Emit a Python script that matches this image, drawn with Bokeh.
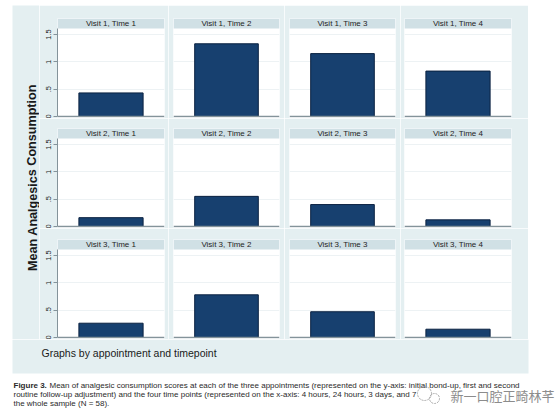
from bokeh.plotting import figure
from bokeh.layouts import row, column, Spacer
from bokeh.models import Range1d, FactorRange, BoxAnnotation, Span, Grid, FixedTicker
from bokeh.core.properties import value
from bokeh.embed import file_html
from bokeh.resources import INLINE

# ---------------- data ----------------
visits = ["Visit 1", "Visit 2", "Visit 3"]
times = ["Time 1", "Time 2", "Time 3", "Time 4"]
visit1 = [0.43, 1.33, 1.15, 0.83]
visit2 = [0.16, 0.55, 0.40, 0.12]
visit3 = [0.26, 0.78, 0.47, 0.15]
y_ticks = [0, 0.5, 1, 1.5]
y_tick_labels = ["0", ".5", "1", "1.5"]
y_title = "Mean Analgesics Consumption"
note = "Graphs by appointment and timepoint"
caption_bold = "Figure 3."
caption_lines = [
    "Mean of analgesic consumption scores at each of the three appointments (represented on the y-axis: initial bond-up, first and second",
    "routine follow-up adjustment) and the four time points (represented on the x-axis: 4 hours, 24 hours, 3 days, and 7",
    "the whole sample (N = 58).",
]
watermark = "新一口腔正畸林芊"

series = [visit1, visit2, visit3]

# ---------------- style ----------------
BG = "#e4eff1"
STRIP = "#d0e0e5"
BAR = "#17406f"
BAR_EDGE = "#0a2140"
AX = "#84939a"
FONT = "Liberation Sans"

Y_MIN = -0.02
PLOT_TOP = 1.61
STRIP_TOP = 1.793
STRIP_MID = (PLOT_TOP + STRIP_TOP) / 2

col_w = [129, 116, 116, 128]
col_borders = [(18, 4), (5, 5), (5, 5), (4, 17)]
row_h = [113, 110, 111]
row_borders = [(13, 1), (10, 1), (11, 1)]

rows = []
for r in range(3):
    figs = []
    for c in range(4):
        p = figure(width=col_w[c], height=row_h[r],
                   x_range=FactorRange(factors=[times[c]]),
                   y_range=Range1d(Y_MIN, STRIP_TOP),
                   x_axis_location=None,
                   y_axis_location="left" if c == 0 else None,
                   toolbar_location=None, tools="", title=None,
                   output_backend="svg",
                   min_border_left=col_borders[c][0], min_border_right=col_borders[c][1],
                   min_border_top=row_borders[r][0], min_border_bottom=row_borders[r][1])
        p.background_fill_color = "white"
        p.border_fill_color = BG
        p.outline_line_color = None
        p.grid.grid_line_color = None
        p.add_layout(Grid(dimension=1, ticker=FixedTicker(ticks=y_ticks[1:]),
                          grid_line_color="#edf2f4", grid_line_width=1))
        p.add_layout(BoxAnnotation(bottom=PLOT_TOP, fill_color=STRIP, fill_alpha=1.0,
                                   line_color=None, level="underlay"))
        p.text(x=[times[c]], y=[STRIP_MID], text=[f"{visits[r]}, {times[c]}"],
               text_align="center", text_baseline="middle",
               text_font=value(FONT), text_font_size="8px", text_color="#1e1e1e",
               level="overlay")
        p.vbar(x=[times[c]], top=[series[r][c]], bottom=0, width=0.6,
               fill_color=BAR, line_color=BAR_EDGE, line_width=1)
        p.add_layout(Span(location=0, dimension="width", line_color=AX, line_width=1.5))
        if c == 0:
            ax = p.yaxis[0]
            ax.ticker = FixedTicker(ticks=y_ticks)
            ax.major_label_overrides = dict(zip(y_ticks, y_tick_labels))
            ax.major_label_orientation = "vertical"
            ax.major_label_text_font = FONT
            ax.major_label_text_font_size = "7.5px"
            ax.major_label_text_color = "#222222"
            ax.major_label_standoff = 2
            ax.major_tick_in = 0
            ax.major_tick_out = 4
            ax.minor_tick_line_color = None
            ax.major_tick_line_color = AX
            ax.axis_line_color = AX
            ax.bounds = (0, PLOT_TOP)
        figs.append(p)
    rows.append(row(*figs, spacing=0))

grid = column(*rows, spacing=0)

# left title figure
LW, LH = 27, sum(row_h)
left = figure(width=LW, height=LH, x_range=Range1d(0, LW), y_range=Range1d(0, LH),
              x_axis_location=None, y_axis_location=None, toolbar_location=None,
              tools="", title=None, output_backend="svg", min_border=0)
left.background_fill_color = BG
left.border_fill_color = BG
left.outline_line_color = None
left.grid.grid_line_color = None
left.text(x=[20], y=[162], text=[y_title], angle=1.5708,
          text_align="center", text_baseline="middle",
          text_font=value(FONT), text_font_size="12.6px", text_font_style="bold",
          text_color="#1a1a1a")

top = row(Spacer(width=12, height=LH), left, grid, spacing=0)

# bottom figure: note + caption
BW, BH = 560, 79
bot = figure(width=BW, height=BH, x_range=Range1d(0, BW), y_range=Range1d(0, BH),
             x_axis_location=None, y_axis_location=None, toolbar_location=None,
             tools="", title=None, output_backend="svg", min_border=0)
bot.background_fill_color = "white"
bot.border_fill_color = "white"
bot.outline_line_color = None
bot.grid.grid_line_color = None
bot.quad(left=[12], right=[528], bottom=[45], top=[BH], fill_color=BG, line_color=None)
bot.text(x=[41], y=[66], text=[note], text_align="left", text_baseline="middle",
         text_font=value(FONT), text_font_size="10.5px", text_color="#1a1a1a")
bot.text(x=[13], y=[33], text=[caption_bold], text_align="left", text_baseline="middle",
         text_font=value(FONT), text_font_size="8px", text_font_style="bold",
         text_color="#2a2a2a")
bot.text(x=[49, 13, 13], y=[33, 24, 15], text=caption_lines, text_align="left",
         text_baseline="middle", text_font=value(FONT), text_font_size="8px",
         text_color="#2a2a2a")
# watermark (chat-bubble icon + account name)
bot.scatter(x=[424, 434], y=[25, 20], size=[14, 10], marker="circle",
            fill_color=None, line_color="#a8a8a8", line_width=1, line_dash="2 1")
bot.text(x=[450], y=[23], text=[watermark], text_align="left", text_baseline="middle",
         text_font=value("Noto Sans CJK SC"), text_font_size="13px",
         text_color="#8c8c8c")

layout = column(Spacer(width=528, height=5), top, bot, spacing=0)

open("out.html", "w").write(file_html(layout, INLINE))
